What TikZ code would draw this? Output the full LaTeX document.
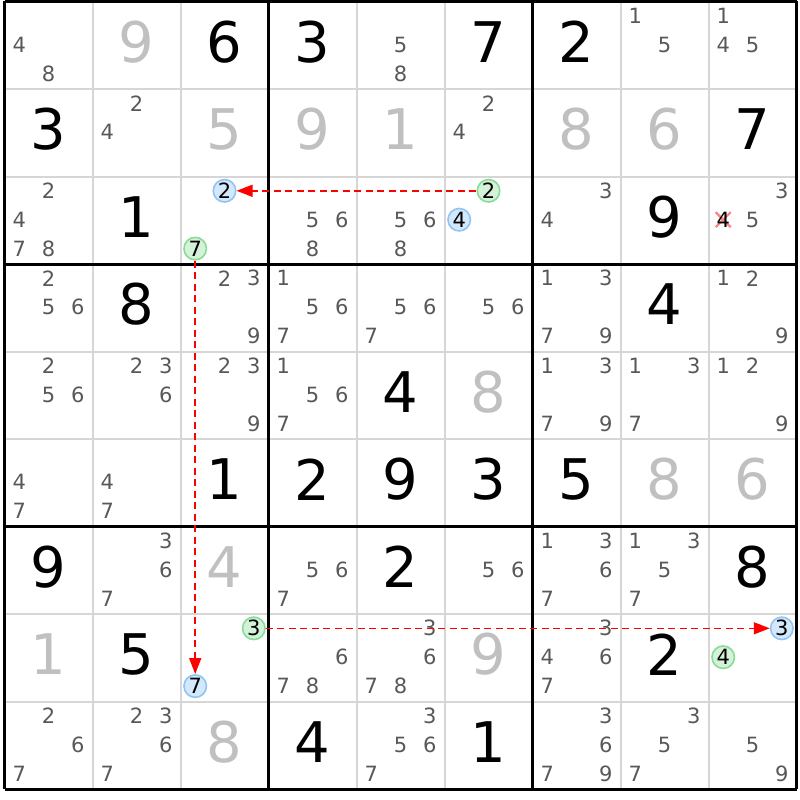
\documentclass[tikz,border=0pt]{standalone}
\usepackage{fontspec}
\setmainfont{DejaVu Sans}
\usetikzlibrary{arrows.meta}
\definecolor{candc}{RGB}{88,88,88}
\definecolor{solvc}{RGB}{192,192,192}
\definecolor{thinc}{RGB}{214,214,214}
\definecolor{bfill}{RGB}{212,232,252}
\definecolor{bline}{RGB}{144,196,244}
\definecolor{gfill}{RGB}{212,242,216}
\definecolor{gline}{RGB}{136,220,152}
\definecolor{xcol}{RGB}{255,130,130}
\newcommand\gx{4.5}
\newcommand\gy{1.5}
\newcommand\cw{88}
\newcommand\ch{87.5}
\tikzset{
  giv/.style={inner sep=0pt,font=\fontsize{56}{56}\selectfont,text=black},
  sol/.style={giv,text=solvc},
  cand/.style={inner sep=0pt,font=\fontsize{21}{21}\selectfont,text=candc},
  bcirc/.style={circle,draw=bline,fill=bfill,line width=1.6pt,minimum size=22.5pt,inner sep=0pt,font=\fontsize{21}{21}\selectfont,text=black},
  gcirc/.style={bcirc,draw=gline,fill=gfill},
  arr/.style={draw=red,line width=1.5pt,dash pattern=on 7pt off 4.5pt,-{Triangle[length=16pt,width=12pt]}},
}
\newcommand\given[4][giv]{%
  \pgfmathsetmacro\px{\gx+(#3+0.5)*\cw}%
  \pgfmathsetmacro\py{\gy+(#2+0.5)*\ch-3.5}%
  \node[#1] (d#2#3) at (\px,\py) {#4};}
\newcommand\cands[3]{%
  \foreach \d in {#3}{%
    \pgfmathsetmacro\px{\gx+#2*\cw+14.7+mod(\d-1,3)*29.3}%
    \pgfmathsetmacro\py{\gy+#1*\ch+14.3+floor((\d-1)/3)*28.9}%
    \node[cand] (c#1#2-\d) at (\px,\py) {\d};
  }}
\begin{document}
\begin{tikzpicture}[x=1pt,y=-1pt]
\useasboundingbox (0,0) rectangle (800,800);
% thin grid
\foreach \i in {1,2,4,5,7,8}{
  \draw[thinc,line width=2pt] ({\gx+\i*\cw},\gy) -- ({\gx+\i*\cw},{\gy+9*\ch});
  \draw[thinc,line width=2pt] (\gx,{\gy+\i*\ch}) -- ({\gx+9*\cw},{\gy+\i*\ch});
}
\foreach \i in {0,3,6,9}{
  \draw[black,line width=3pt] ({\gx+\i*\cw},\gy) -- ({\gx+\i*\cw},{\gy+9*\ch});
  \draw[black,line width=3pt] (\gx,{\gy+\i*\ch}) -- ({\gx+9*\cw},{\gy+\i*\ch});
}
% givens
\given{0}{2}{6}\given{0}{3}{3}\given{0}{5}{7}\given{0}{6}{2}
\given{1}{0}{3}\given{1}{8}{7}
\given{2}{1}{1}\given{2}{7}{9}
\given{3}{1}{8}\given{3}{7}{4}
\given{4}{4}{4}
\given{5}{2}{1}\given{5}{3}{2}\given{5}{4}{9}\given{5}{5}{3}\given{5}{6}{5}
\given{6}{0}{9}\given{6}{4}{2}\given{6}{8}{8}
\given{7}{1}{5}\given{7}{7}{2}
\given{8}{3}{4}\given{8}{5}{1}
% solved
\given[sol]{0}{1}{9}
\given[sol]{1}{2}{5}\given[sol]{1}{3}{9}\given[sol]{1}{4}{1}\given[sol]{1}{6}{8}\given[sol]{1}{7}{6}
\given[sol]{4}{5}{8}
\given[sol]{5}{7}{8}\given[sol]{5}{8}{6}
\given[sol]{6}{2}{4}
\given[sol]{7}{0}{1}\given[sol]{7}{5}{9}
\given[sol]{8}{2}{8}
% candidates
\cands{0}{0}{4,8}\cands{0}{4}{5,8}\cands{0}{7}{1,5}\cands{0}{8}{1,4,5}
\cands{1}{1}{2,4}\cands{1}{5}{2,4}
\cands{2}{0}{2,4,7,8}\cands{2}{3}{5,6,8}\cands{2}{4}{5,6,8}\cands{2}{6}{3,4}\cands{2}{8}{3,5}
\cands{3}{0}{2,5,6}\cands{3}{2}{2,3,9}\cands{3}{3}{1,5,6,7}\cands{3}{4}{5,6,7}\cands{3}{5}{5,6}\cands{3}{6}{1,3,7,9}\cands{3}{8}{1,2,9}
\cands{4}{0}{2,5,6}\cands{4}{1}{2,3,6}\cands{4}{2}{2,3,9}\cands{4}{3}{1,5,6,7}\cands{4}{6}{1,3,7,9}\cands{4}{7}{1,3,7}\cands{4}{8}{1,2,9}
\cands{5}{0}{4,7}\cands{5}{1}{4,7}
\cands{6}{1}{3,6,7}\cands{6}{3}{5,6,7}\cands{6}{5}{5,6}\cands{6}{6}{1,3,6,7}\cands{6}{7}{1,3,5,7}
\cands{7}{3}{6,7,8}\cands{7}{4}{3,6,7,8}\cands{7}{6}{3,4,6,7}
\cands{8}{0}{2,6,7}\cands{8}{1}{2,3,6,7}\cands{8}{4}{3,5,6,7}\cands{8}{6}{3,6,7,9}\cands{8}{7}{3,5,7}\cands{8}{8}{5,9}
% eliminated candidate
\coordinate (xc) at (723.2,219.7);
\draw[xcol,line width=2.2pt] ([shift={(-7.5,-7.5)}]xc) -- ([shift={(7.5,7.5)}]xc);
\draw[xcol,line width=2.2pt] ([shift={(-7.5,7.5)}]xc) -- ([shift={(7.5,-7.5)}]xc);
\node[cand,text=black] (x4) at (xc) {4};
% circled candidates
\node[bcirc] (b2) at (224.5,190.8) {2};
\node[gcirc] (g7) at (195.2,248.6) {7};
\node[gcirc] (g2) at (488.5,190.8) {2};
\node[bcirc] (b4) at (459.2,219.7) {4};
\node[bcirc] (b7) at (195.2,686.1) {7};
\node[gcirc] (g3) at (253.8,628.3) {3};
\node[bcirc] (b3) at (781.8,628.3) {3};
\node[gcirc] (g4) at (723.2,657.2) {4};
% links
\draw[arr] (g2) -- (b2);
\draw[arr] (g7) -- (b7);
\draw[arr] (g3) -- (b3);
\end{tikzpicture}
\end{document}
